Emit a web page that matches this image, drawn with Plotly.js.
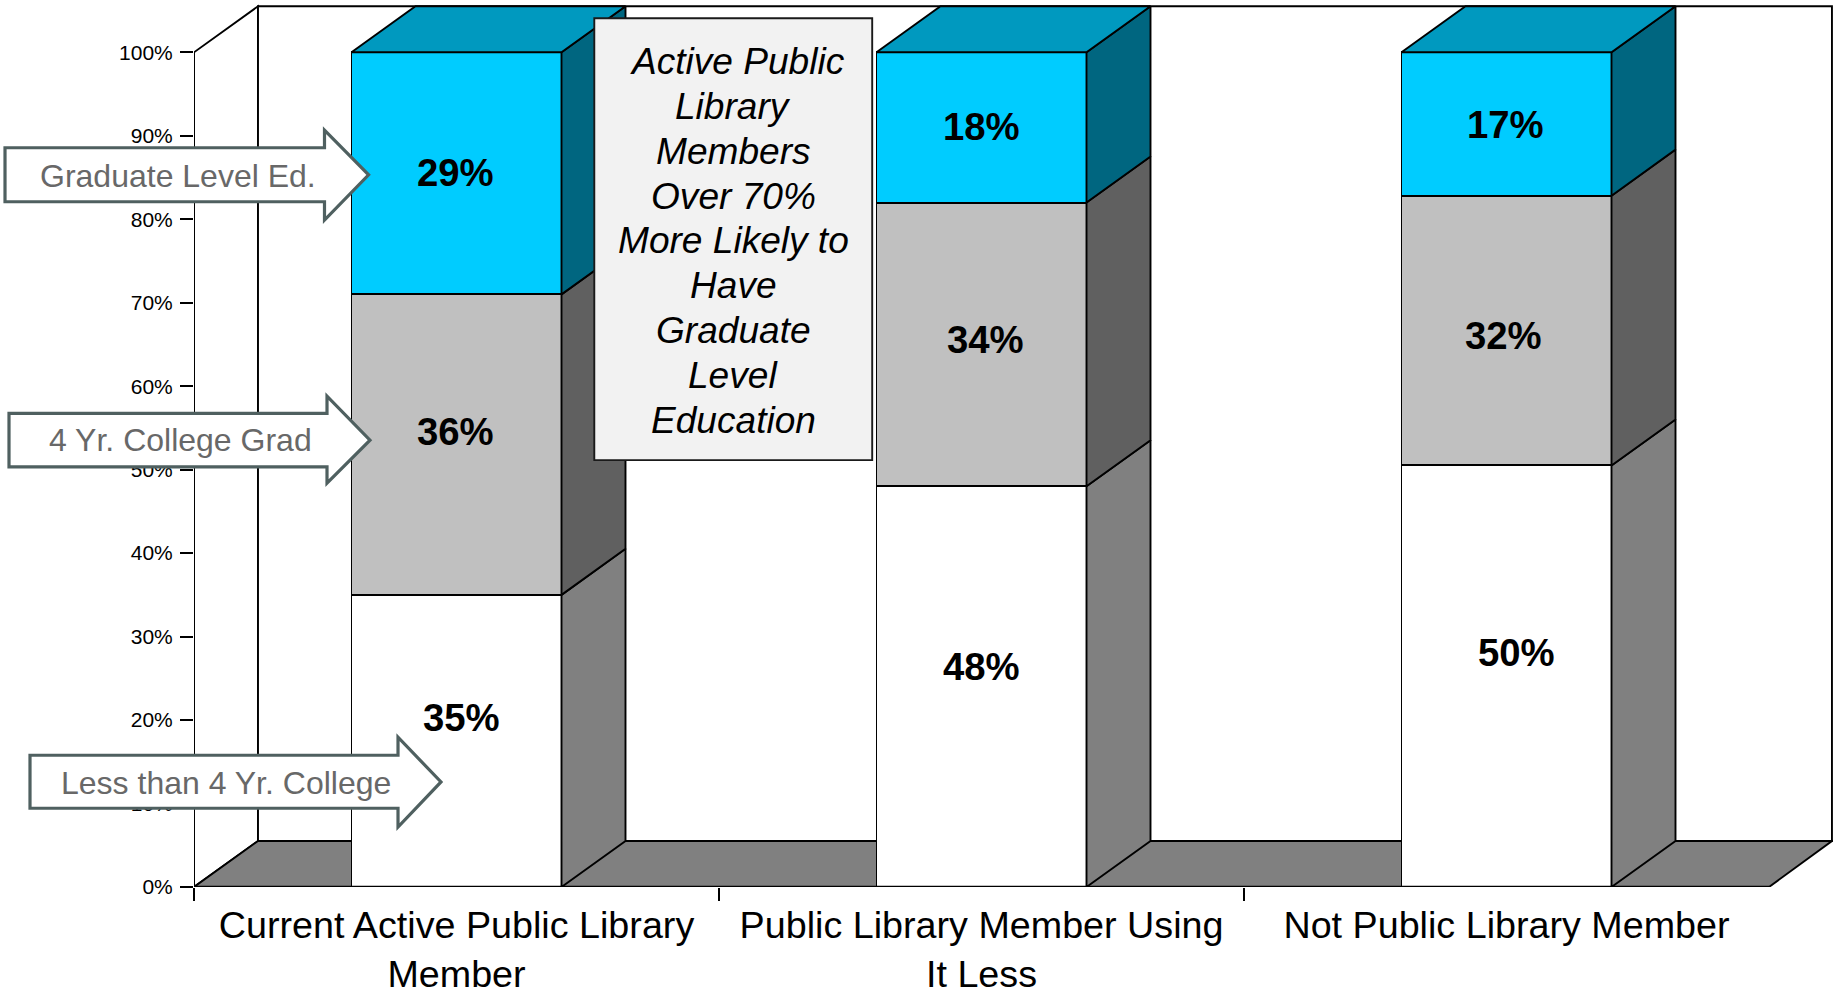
<!DOCTYPE html>
<html>
<head>
<meta charset="utf-8">
<script src="https://cdn.plot.ly/plotly-3.0.1.min.js"></script>
<style>html,body{margin:0;padding:0;background:#fff;overflow:hidden}#chart{width:1833px;height:989px}</style>
</head>
<body>
<div id="chart"></div>
<script>
// ---- data ----
const categories = ["Current Active Public Library<br>Member", "Public Library Member Using<br>It Less", "Not Public Library Member"];
const lessThanCollege = [35, 48, 50];
const collegeGrad = [36, 34, 32];
const graduateEd = [29, 18, 17];
const yTicks = [0, 10, 20, 30, 40, 50, 60, 70, 80, 90, 100];
const calloutTexts = ["Graduate Level Ed.", "4 Yr. College Grad", "Less than 4 Yr. College"];
const infoLines = ["Active Public", "Library", "Members", "Over 70%", "More Likely to", "Have", "Graduate", "Level", "Education"];

// ---- frame (pixels of the page) ----
const W = 1833, H = 989;
const pLeft = 194, pBottom = 886.7, pTop = 4;
const catPx = 525, pctPx = 8.344;
const depthX = 64 / catPx, depthY = 46 / pctPx;
const barW = 0.4;
const xIdx = categories.map((_, i) => i);
const x0 = -0.5, x1 = x0 + (W - pLeft) / catPx;
const y1 = (pBottom - pTop) / pctPx;
const FONT = '"Liberation Sans", Arial, sans-serif';
const LINE = {color: '#000', width: 1.9};

const series = [lessThanCollege, collegeGrad, graduateEd];
const totals = xIdx.map(i => series.reduce((s, a) => s + a[i], 0));
const share = (arr, i) => arr[i] / totals[i] * 100;
const base = (k, i) => series.slice(0, k).reduce((s, a) => s + share(a, i), 0);

const frontColors = ['#FFFFFF', '#C0C0C0', '#00CCFF'];
const sideColors = ['#808080', '#606060', '#006680'];
const topColor = '#0099BF';
const names = ['Less than 4 Yr. College', '4 Yr. College Grad', 'Graduate Level Ed.'];

const traces = [];
series.forEach((arr, k) => traces.push({
  type: 'bar', x: xIdx, y: arr, width: barW, name: names[k],
  marker: {color: frontColors[k], line: LINE}, hoverinfo: 'skip', showlegend: false
}));
series.forEach((arr, k) => {
  const xs = [], ys = [];
  xIdx.forEach(i => {
    const r = i + barW / 2, lo = base(k, i), hi = lo + share(arr, i);
    xs.push(r, r + depthX, r + depthX, r, r, null);
    ys.push(lo, lo + depthY, hi + depthY, hi, lo, null);
  });
  traces.push({type: 'scatter', mode: 'lines', x: xs, y: ys, fill: 'toself', fillcolor: sideColors[k],
    line: LINE, hoverinfo: 'skip', showlegend: false});
});
{
  const xs = [], ys = [];
  xIdx.forEach(i => {
    const l = i - barW / 2, r = i + barW / 2, hi = base(3, i);
    xs.push(l, l + depthX, r + depthX, r, l, null);
    ys.push(hi, hi + depthY, hi + depthY, hi, hi, null);
  });
  traces.push({type: 'scatter', mode: 'lines', x: xs, y: ys, fill: 'toself', fillcolor: topColor,
    line: LINE, hoverinfo: 'skip', showlegend: false});
}

// ---- helpers: page pixels to paper ----
const pw = W - pLeft, ph = pBottom - pTop;
const px = v => ((v - pLeft) / pw).toFixed(5);
const py = v => ((pBottom - v) / ph).toFixed(5);
const poly = pts => 'M' + pts.map(p => px(p[0]) + ',' + py(p[1])).join(' L') + ' Z';

// ---- walls and floor ----
const xEnd = xIdx.length - 0.5;
const wallR = xEnd + depthX - 0.002;
const dPath = pts => 'M' + pts.map(p => p[0] + ',' + p[1]).join(' L') + ' Z';
const shapes = [
  {type: 'path', xref: 'x', yref: 'y', layer: 'below', fillcolor: '#fff', line: LINE,
   path: dPath([[x0, 0], [x0 + depthX, depthY], [x0 + depthX, 100 + depthY], [x0, 100]])},
  {type: 'path', xref: 'x', yref: 'y', layer: 'below', fillcolor: '#fff', line: LINE,
   path: dPath([[x0 + depthX, depthY], [wallR, depthY], [wallR, 100 + depthY], [x0 + depthX, 100 + depthY]])},
  {type: 'path', xref: 'x', yref: 'y', layer: 'below', fillcolor: '#808080', line: LINE,
   path: dPath([[x0, 0], [xEnd, 0], [wallR, depthY], [x0 + depthX, depthY]])},
  {type: 'line', xref: 'x', yref: 'y', layer: 'above', x0: x0, x1: xEnd, y0: 0, y1: 0, line: {color: '#000', width: 2.4}},
  {type: 'line', xref: 'x', yref: 'y', layer: 'above', x0: x0, x1: x0, y0: 0, y1: 100, line: {color: '#000', width: 1.9}}
];

// ---- callouts ----
const callouts = [
  {l: 5, t: 147.7, b: 201.7, hx: 324.5, ht: 130, hb: 220, tip: 368.6, ty: 174.7, cx: 178, cy: 176},
  {l: 9, t: 413.3, b: 466.7, hx: 327, ht: 396, hb: 483, tip: 370, ty: 440, cx: 180, cy: 440},
  {l: 30, t: 755, b: 808, hx: 398, ht: 737, hb: 826.7, tip: 441, ty: 781.7, cx: 225.5, cy: 782.7}
];
const annotations = [];
callouts.forEach((c, i) => {
  shapes.push({type: 'path', xref: 'paper', yref: 'paper', layer: 'above', fillcolor: '#fff',
    line: {color: '#4F6060', width: 3.2},
    path: poly([[c.l, c.t], [c.hx, c.t], [c.hx, c.ht], [c.tip, c.ty], [c.hx, c.hb], [c.hx, c.b], [c.l, c.b]])});
  annotations.push({xref: 'paper', yref: 'paper', x: +px(c.cx), y: +py(c.cy), xanchor: 'center', yanchor: 'middle',
    showarrow: false, text: calloutTexts[i], font: {family: FONT, size: 32, color: '#686868'}});
});

// ---- info box ----
shapes.push({type: 'path', xref: 'paper', yref: 'paper', layer: 'above', fillcolor: '#F2F2F2',
  line: {color: '#1A1A1A', width: 1.9},
  path: poly([[594.3, 18.3], [872.2, 18.3], [872.2, 460], [594.3, 460]])});
infoLines.forEach((t, i) => annotations.push({
  xref: 'paper', yref: 'paper', x: +px(733), y: +py(60.8 + 44.9 * i), xanchor: 'center', yanchor: 'middle',
  xshift: i === 0 ? 4 : 0, showarrow: false, text: t,
  font: {family: FONT, size: 37.1, color: '#000', style: 'italic'}
}));

// ---- value labels, with the nudges seen in the reference ----
const nudgeX = [[5, 0, 10], [-1, 3.5, -3.5], [-1, 0, -1.5]];
const nudgeY = [[23, 20, 23.5], [13.5, 5, -4.5], [0.5, 0.5, -1]];
series.forEach((arr, k) => xIdx.forEach(i => annotations.push({
  xref: 'x', yref: 'y', x: i, y: base(k, i) + share(arr, i) / 2, xanchor: 'center', yanchor: 'middle',
  xshift: nudgeX[k][i], yshift: nudgeY[k][i], showarrow: false, text: '<b>' + arr[i] + '%</b>',
  font: {family: FONT, size: 38.3, color: '#000'}
})));

const layout = {
  width: W, height: H,
  margin: {l: pLeft, r: 0, t: pTop, b: H - pBottom, pad: 0, autoexpand: false},
  paper_bgcolor: '#fff', plot_bgcolor: '#fff',
  barmode: 'stack', barnorm: 'percent', hovermode: false, showlegend: false,
  xaxis: {
    range: [x0, x1], showgrid: false, zeroline: false, showline: false, automargin: false,
    tickmode: 'array', tickvals: xIdx, ticktext: categories, ticks: '', ticklen: 0,
    tickangle: 0, tickfont: {family: FONT, size: 37.7, color: '#000'}, ticklabelstandoff: 12,
    minor: {tickmode: 'array', tickvals: xIdx.map(i => i - 0.5), ticks: 'outside', ticklen: 13, tickwidth: 1.5, tickcolor: '#000', showgrid: false}
  },
  yaxis: {
    range: [0, y1], showgrid: false, zeroline: false, showline: false, automargin: false,
    tickmode: 'array', tickvals: yTicks, ticktext: yTicks.map(v => v + '%'), ticks: 'outside', ticklen: 13, tickwidth: 1.5, tickcolor: '#000',
    tickfont: {family: FONT, size: 21, color: '#000'}, ticklabelstandoff: 3, ticklabelshift: -1.5
  },
  shapes, annotations
};
Plotly.newPlot('chart', traces, layout, {displayModeBar: false, responsive: false});
</script>
</body>
</html>
